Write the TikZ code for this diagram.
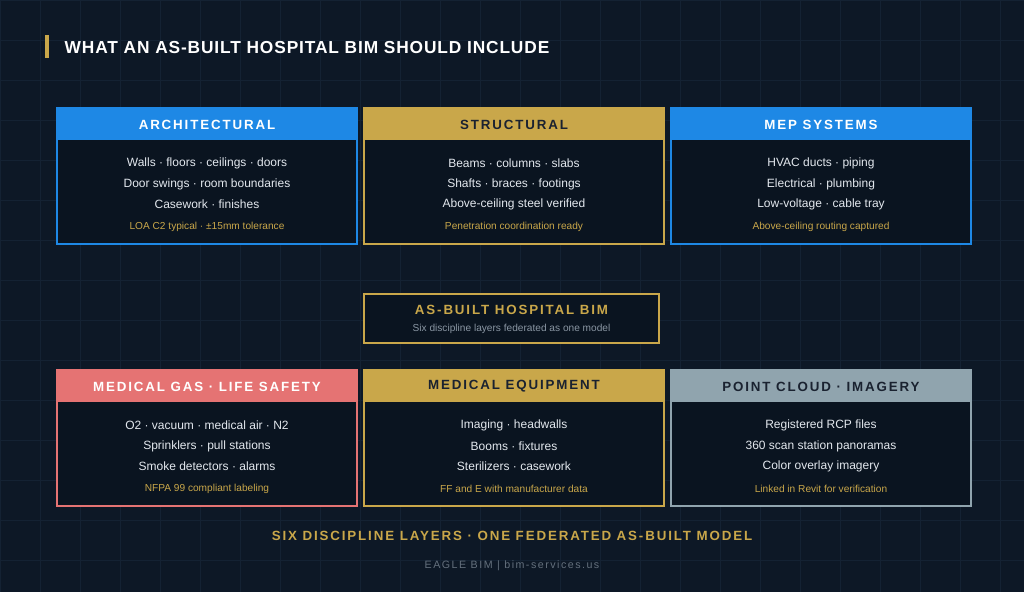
\documentclass[tikz,border=0pt]{standalone}
\usepackage{fontspec}
\setmainfont{Liberation Sans}
\newfontfamily\spaced[LetterSpace=14]{Liberation Sans}
\newfontfamily\spacedw[LetterSpace=20]{Liberation Sans}
\newfontfamily\spacedt[LetterSpace=5]{Liberation Sans}
\definecolor{bg}{HTML}{0D1826}
\definecolor{body}{HTML}{0A1420}
\definecolor{cblue}{HTML}{1E88E5}
\definecolor{cgold}{HTML}{C9A74A}
\definecolor{cred}{HTML}{E57373}
\definecolor{cgray}{HTML}{90A4AE}
\definecolor{txt}{HTML}{E3E8EE}
\definecolor{dark}{HTML}{1A2230}
\definecolor{sub}{HTML}{8A96A3}
\definecolor{gridc}{HTML}{142233}
\tikzset{
  hd/.style={font=\spaced\bfseries\fontsize{10}{12}\selectfont},
  ln/.style={font=\fontsize{9}{11}\selectfont,text=txt},
  ac/.style={font=\fontsize{7.6}{9}\selectfont,text=cgold},
}
\newcommand{\card}[6]{% name, x, y, color, headertextcolor, title
  \fill[body] (#2,#3) rectangle ++(302,138);
  \fill[#4] (#2,#3) rectangle ++(302,33);
  \draw[#4,line width=1.5pt] (#2+1,#3+1) rectangle ++(300,136);
  \node[hd,text=#5] (#1h) at (#2+151,#3+17.5) {#6};
}
\begin{document}
\begin{tikzpicture}[x=0.75pt,y=-0.75pt]
\fill[bg] (0,0) rectangle (1024,592);
\useasboundingbox (0,0) rectangle (1024,592);
\foreach \i in {0,40,...,1024} \draw[gridc,line width=0.3pt] (\i,0) -- (\i,592);
\foreach \i in {0,40,...,592} \draw[gridc,line width=0.3pt] (0,\i) -- (1024,\i);
\fill[cgold] (45,35) rectangle (49,58);
\node[anchor=west,text=white,font=\spacedt\bfseries\fontsize{13}{15}\selectfont] (title) at (60,48) {WHAT AN AS-BUILT HOSPITAL BIM SHOULD INCLUDE};

\card{a}{56}{107}{cblue}{white}{ARCHITECTURAL}
\card{s}{363}{107}{cgold}{dark}{STRUCTURAL}
\card{m}{670}{107}{cblue}{white}{MEP SYSTEMS}
\card{g}{56}{369}{cred}{white}{MEDICAL GAS · LIFE SAFETY}
\card{e}{363}{369}{cgold}{dark}{MEDICAL EQUIPMENT}
\card{p}{670}{369}{cgray}{dark}{POINT CLOUD · IMAGERY}

\foreach \n/\x/\y/\a/\b/\c/\d in {
 a1/207/107/Walls · floors · ceilings · doors/Door swings · room boundaries/Casework · finishes/LOA C2 typical · ±15mm tolerance,
 s1/514/107/Beams · columns · slabs/Shafts · braces · footings/Above-ceiling steel verified/Penetration coordination ready,
 m1/821/107/HVAC ducts · piping/Electrical · plumbing/Low-voltage · cable tray/Above-ceiling routing captured,
 g1/207/369/O2 · vacuum · medical air · N2/Sprinklers · pull stations/Smoke detectors · alarms/NFPA 99 compliant labeling,
 e1/514/369/Imaging · headwalls/Booms · fixtures/Sterilizers · casework/FF and E with manufacturer data,
 p1/821/369/Registered RCP files/360 scan station panoramas/Color overlay imagery/Linked in Revit for verification}
{
 \node[ln] (\n a) at (\x,\y+56) {\a};
 \node[ln] (\n b) at (\x,\y+77) {\b};
 \node[ln] (\n c) at (\x,\y+97) {\c};
 \node[ac] (\n d) at (\x,\y+120) {\d};
}

\fill[body] (363,293) rectangle (660,344);
\draw[cgold,line width=1.5pt] (364,294) rectangle (659,343);
\node[font=\spaced\bfseries\fontsize{10}{12}\selectfont,text=cgold] (hub) at (511.5,310) {AS-BUILT HOSPITAL BIM};
\node[font=\fontsize{7.6}{9}\selectfont,text=sub] (hubs) at (511.5,329) {Six discipline layers federated as one model};

\node[font=\spaced\bfseries\fontsize{10}{12}\selectfont,text=cgold] (foot) at (512,536) {SIX DISCIPLINE LAYERS · ONE FEDERATED AS-BUILT MODEL};
\node[font=\spaced\fontsize{8}{10}\selectfont,text=sub!70!bg] (cred) at (512,566) {EAGLE BIM | bim-services.us};
\end{tikzpicture}
\end{document}
